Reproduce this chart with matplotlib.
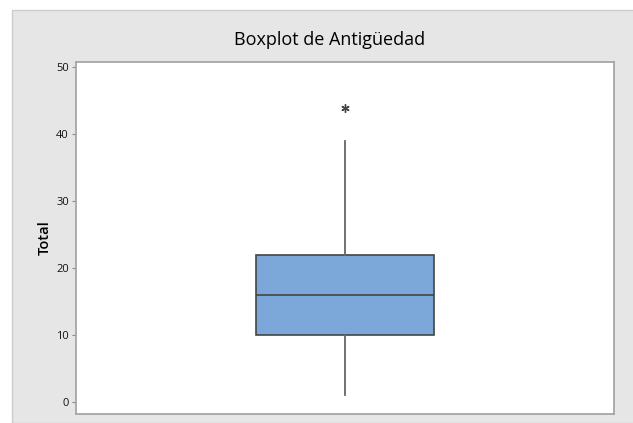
import matplotlib.pyplot as plt
from matplotlib.patches import Rectangle

# summary values
label = "Total"
q1 = 10
median = 16
q3 = 22
whisker_low = 1
whisker_high = 39
outliers = [44]
yticks = [0, 10, 20, 30, 40, 50]

plt.rcParams['font.family'] = ['Open Sans', 'DejaVu Sans']

fig = plt.figure(figsize=(6.33, 4.23), dpi=100)
fig.patch.set_facecolor('white')
# grey panel behind the chart
fig.patches.append(Rectangle((12 / 633, 0), 1, 1 - 10 / 423, transform=fig.transFigure,
                             facecolor='#e6e6e6', edgecolor='#cccccc', lw=1, zorder=-10))

ax = fig.add_axes([76 / 633, 9 / 423, 538 / 633, 352 / 423])
ax.set_facecolor('white')

stats = [dict(med=median, q1=q1, q3=q3, whislo=whisker_low, whishi=whisker_high,
              fliers=outliers, label='')]
ax.bxp(stats, positions=[0], widths=0.33, patch_artist=True, showcaps=False,
       boxprops=dict(facecolor='#7ba7d9', edgecolor='#444444', lw=1.2),
       medianprops=dict(color='#444444', lw=1.2),
       whiskerprops=dict(color='#666666', lw=1.3),
       flierprops=dict(marker=(6, 2, 0), markersize=6, markeredgecolor='#444444',
                       markeredgewidth=1.0))

ax.set_xlim(-0.5, 0.5)
ax.set_ylim(-1.8, 50.8)
ax.set_yticks(yticks)
ax.set_xticks([])
ax.tick_params(axis='y', labelsize=8, length=3, color='#888888', pad=2, labelcolor='#111111')
for s in ax.spines.values():
    s.set_color('#a6a6a6')
    s.set_linewidth(1.3)

ax.set_ylabel(label, fontsize=10.5, labelpad=3, fontweight='semibold')
fig.text(330 / 633, 1 - 40 / 423, 'Boxplot de Antigüedad', ha='center', va='center',
         fontsize=13)

fig.savefig('out.png', dpi=100, facecolor=fig.get_facecolor())
